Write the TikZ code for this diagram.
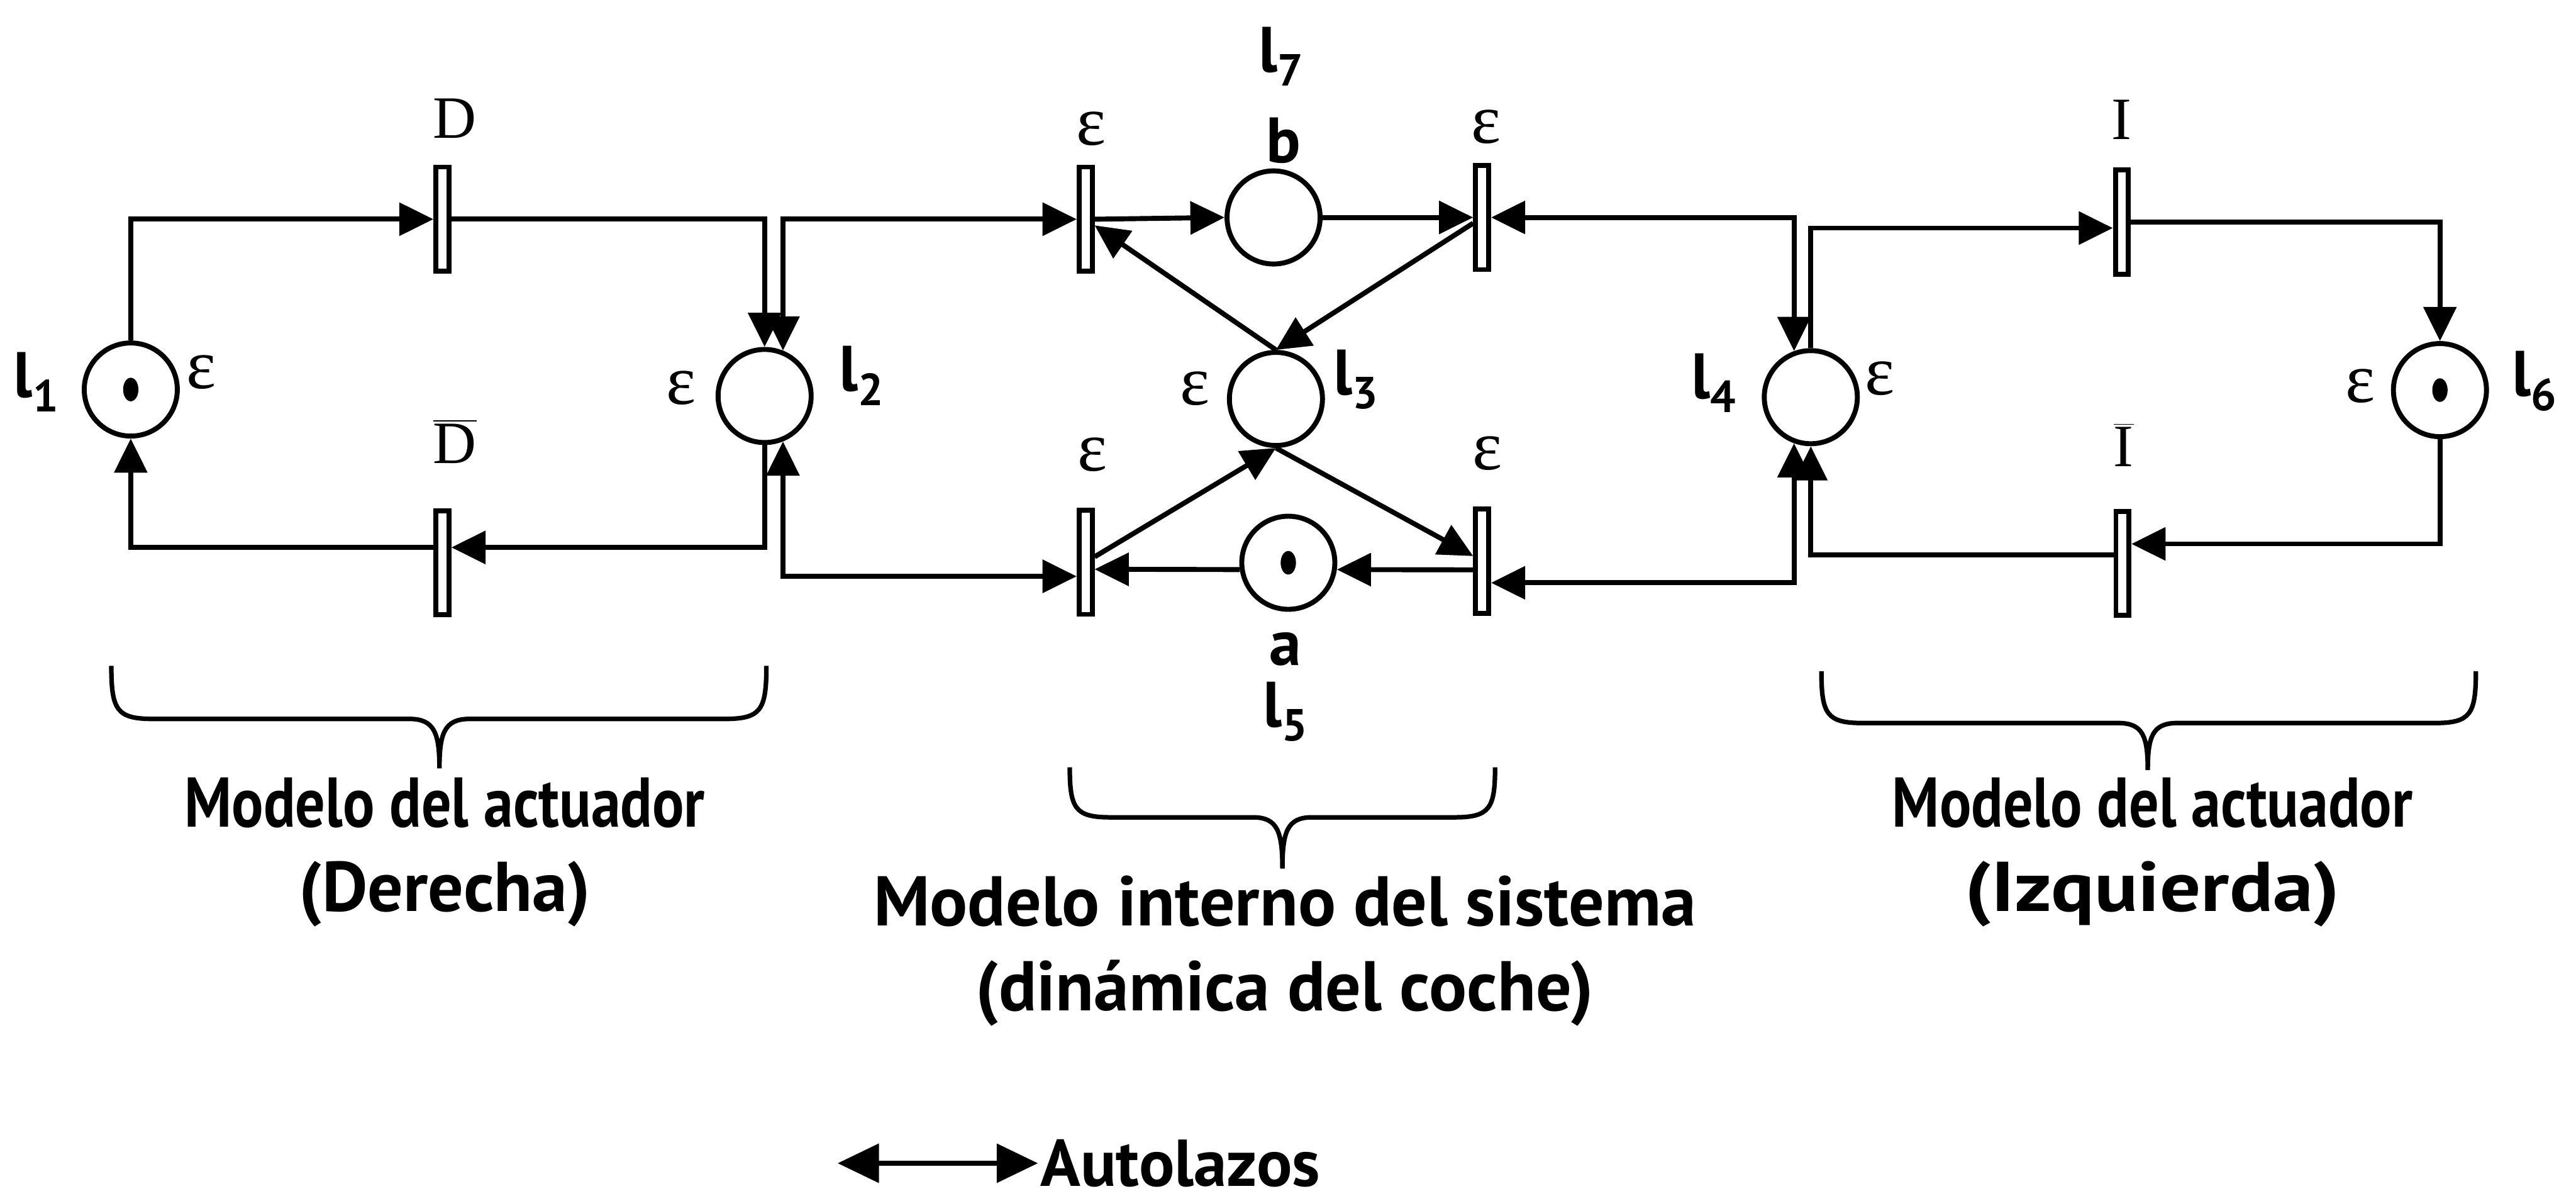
\documentclass[tikz,border=0pt]{standalone}
\usepackage{fontspec}
\setmainfont{PT Sans Bold}
\newfontfamily\estrecha{PT Sans Bold}[FakeStretch=0.84]
\newfontfamily\ancha{PT Sans Bold}[FakeStretch=1.15]
\newfontfamily\serifo{Liberation Serif}
\usetikzlibrary{arrows.meta}

\begin{document}
\begin{tikzpicture}[
    line width=2.4pt,
    >={Triangle[length=5.8mm,width=5.5mm]},
    plaza/.style={circle, draw, minimum size=1.58cm, inner sep=0pt},
    trans/.style={rectangle, draw, minimum width=0.22cm, minimum height=1.77cm, inner sep=0pt},
    marca/.style={font=\fontsize{31}{36}\selectfont, inner sep=0pt},
    eps/.style={font=\serifo\fontsize{34}{40}\selectfont, inner sep=0pt},
    evento/.style={font=\serifo\fontsize{29}{35}\selectfont, inner sep=0pt, anchor=base},
    texto/.style={font=\fontsize{34}{41}\selectfont, align=center, inner sep=0pt, anchor=north}
]
\useasboundingbox (0,0) rectangle (43.73,-20.38);

% Places
\node[plaza] (l1) at ( 2.22, -6.61) {};
\node[plaza] (l2) at (12.98, -6.72) {};
\node[plaza] (l3) at (21.66, -6.77) {};
\node[plaza] (l4) at (30.74, -6.74) {};
\node[plaza] (l5) at (21.87, -9.55) {};
\node[plaza] (l6) at (41.42, -6.62) {};
\node[plaza] (l7) at (21.62, -3.69) {};

% Tokens
\foreach \p in {l1,l5,l6}
    \fill (\p) ellipse [x radius=0.13, y radius=0.2];

% Transitions
\node[trans] (D)    at ( 7.51, -3.72) {};
\node[trans] (Dneg) at ( 7.51, -9.55) {};
\node[trans] (e1)   at (18.43, -3.72) {};
\node[trans] (e2)   at (25.16, -3.69) {};
\node[trans] (e3)   at (18.43, -9.54) {};
\node[trans] (e4)   at (25.16, -9.52) {};
\node[trans] (I)    at (36.02, -3.77) {};
\node[trans] (Ineg) at (36.03, -9.56) {};

% Transition names
\node[evento] (labD)    at ( 7.72, -2.34) {D};
\node[evento] (labDneg) at ( 7.72, -7.86) {$\overline{\mbox{D}}$};
\node[evento] (labI)    at (36.02, -2.37) {I};
\node[evento] (labIneg) at (36.05, -7.92) {$\overline{\mbox{I}}$};

% Epsilon labels
\node[eps] (epsl1) at ( 3.42, -6.32) {ε};
\node[eps] (epsl2) at (11.56, -6.58) {ε};
\node[eps] (epse1) at (18.52, -2.19) {ε};
\node[eps] (epse2) at (25.23, -2.15) {ε};
\node[eps] (epsl3) at (20.28, -6.59) {ε};
\node[eps] (epse3) at (18.54, -7.72) {ε};
\node[eps] (epse4) at (25.25, -7.69) {ε};
\node[eps] (epsl4) at (31.91, -6.42) {ε};
\node[eps] (epsl6) at (40.07, -6.55) {ε};

% Place names
\node[marca] (labl1) at ( 0.62, -6.48) {l\textsubscript{1}};
\node[marca] (labl2) at (14.63, -6.38) {l\textsubscript{2}};
\node[marca] (labl3) at (23.02, -6.44) {l\textsubscript{3}};
\node[marca] (labl4) at (29.10, -6.50) {l\textsubscript{4}};
\node[marca] (labl5) at (21.83,-12.08) {l\textsubscript{5}};
\node[marca] (labl6) at (43.03, -6.47) {l\textsubscript{6}};
\node[marca] (labl7) at (21.75, -0.96) {l\textsubscript{7}};
\node[marca] (laba)  at (21.82,-11.02) {a};
\node[marca] (labb)  at (21.79, -2.39) {b};

% Actuator (right turn)
\draw[->] (l1.north) |- (D.west);
\draw[->] (D.east) -| (l2.north);
\draw[->] (l2.south) |- ([yshift=2.6mm]Dneg.east);
\draw[->] ([yshift=2.6mm]Dneg.west) -| (l1.south);

% Self loops
\draw[<->] (l2.68) |- (e1.west);
\draw[<->] (l2.-68) |- ([yshift=-2.4mm]e3.west);
\draw[<->] (e2.east) -| (l4.110);
\draw[<->] ([yshift=-3.7mm]e4.east) -| (l4.-110);

% Car dynamics
\draw[->] (e1.east) -- (l7.west);
\draw[->] (l7.east) -- (e2.west);
\draw[->] (l3.north) -- (e1);
\draw[->] (e2) -- (l3.north);
\draw[->] (e3) -- (l3.south);
\draw[->] (l3.south) -- (e4);
\draw[->] (l5.188) -- ([yshift=-1.2mm]e3.east);
\draw[->] ([yshift=-1.5mm]e4.west) -- (l5.-8);

% Actuator (left turn)
\draw[->] (l4.north) |- ([yshift=-1mm]I.west);
\draw[->] (I.east) -| (l6.north);
\draw[->] (l6.south) |- ([yshift=3.3mm]Ineg.east);
\draw[->] ([yshift=1.4mm]Ineg.west) -| (l4.south);

% Braces
\draw[line width=2.2pt] (1.89,-11.30) .. controls (1.89,-12.05) and (1.98,-12.20) .. (2.60,-12.20)
    -- (6.95,-12.20) .. controls (7.38,-12.20) and (7.46,-12.45) .. (7.46,-13.04)
    .. controls (7.46,-12.45) and (7.54,-12.20) .. (7.97,-12.20)
    -- (12.30,-12.20) .. controls (12.92,-12.20) and (13.01,-12.05) .. (13.01,-11.30);
\draw[line width=2.2pt] (18.16,-13.02) .. controls (18.16,-13.72) and (18.25,-13.87) .. (18.85,-13.87)
    -- (21.27,-13.87) .. controls (21.69,-13.87) and (21.77,-14.12) .. (21.77,-14.74)
    .. controls (21.77,-14.12) and (21.85,-13.87) .. (22.27,-13.87)
    -- (24.69,-13.87) .. controls (25.29,-13.87) and (25.38,-13.72) .. (25.38,-13.02);
\draw[line width=2.2pt] (30.92,-11.39) .. controls (30.92,-12.12) and (31.01,-12.27) .. (31.62,-12.27)
    -- (35.96,-12.27) .. controls (36.38,-12.27) and (36.46,-12.50) .. (36.46,-13.07)
    .. controls (36.46,-12.50) and (36.54,-12.27) .. (36.96,-12.27)
    -- (41.33,-12.27) .. controls (41.94,-12.27) and (42.03,-12.12) .. (42.03,-11.39);

% Captions
\node[texto] (txtder) at ( 7.55,-13.15) {{\estrecha Modelo del actuador}\\(Derecha)};
\node[texto] (txtint) at (21.81,-14.82) {Modelo interno del sistema\\(dinámica del coche)};
\node[texto] (txtizq) at (36.54,-13.15) {{\estrecha Modelo del actuador}\\{\ancha (Izquierda)}};

% Legend
\coordinate (ini) at (14.22,-19.74);
\node[texto, font=\fontsize{32}{38}\selectfont, anchor=west] (autolazos) at (17.62,-19.74) {Autolazos};
\draw[{Triangle[length=7mm,width=6.5mm]}-{Triangle[length=7mm,width=6.5mm]}] (ini) -- (autolazos.west);

\end{tikzpicture}
\end{document}
